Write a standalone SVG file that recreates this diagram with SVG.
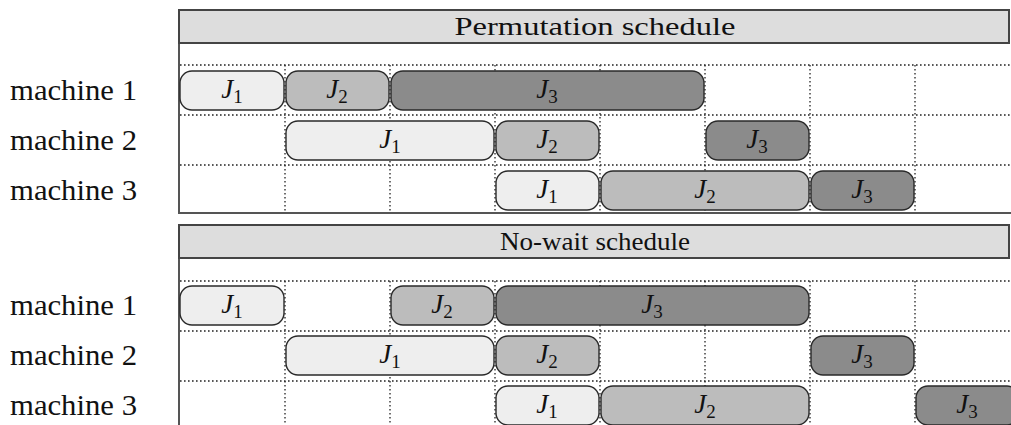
<svg xmlns="http://www.w3.org/2000/svg" width="1011" height="425" viewBox="0 0 1011 425">
  <style>
    .lbl { font-family: "Liberation Serif", "Times New Roman", serif; font-size: 29px; fill: #111; }
    .ttl { font-family: "Liberation Serif", "Times New Roman", serif; font-size: 26px; fill: #111; text-anchor: middle; }
    .job { font-family: "Liberation Serif", "Times New Roman", serif; font-size: 27px; font-style: italic; fill: #111; text-anchor: middle; }
    .sub { font-size: 19px; font-style: normal; }
    .bar { fill: #dddddd; stroke: #444; stroke-width: 2; }
    .frame { fill: none; stroke: #555; stroke-width: 2; }
    .grid { stroke: #222; stroke-width: 1.3; stroke-dasharray: 1.6 2.4; fill: none; }
    .box { stroke: #2a2a2a; stroke-width: 1.4; }
    .j1 { fill: #eeeeee; }
    .j2 { fill: #bcbcbc; }
    .j3 { fill: #8b8b8b; }
  </style>

  <!-- row labels -->
  <g id="labels">
    <text class="lbl" x="10" y="100" textLength="127" lengthAdjust="spacingAndGlyphs">machine 1</text>
    <text class="lbl" x="10" y="150" textLength="127" lengthAdjust="spacingAndGlyphs">machine 2</text>
    <text class="lbl" x="10" y="200" textLength="127" lengthAdjust="spacingAndGlyphs">machine 3</text>
    <text class="lbl" x="10" y="315" textLength="127" lengthAdjust="spacingAndGlyphs">machine 1</text>
    <text class="lbl" x="10" y="365" textLength="127" lengthAdjust="spacingAndGlyphs">machine 2</text>
    <text class="lbl" x="10" y="415" textLength="127" lengthAdjust="spacingAndGlyphs">machine 3</text>
  </g>

  <!-- permutation panel: grid and frame -->
  <g id="grid-top" class="grid">
    <path d="M180 65H1011M180 115H1011M180 165H1011"/>
    <path d="M285 65V213M390 65V213M495 65V213M600 65V213M705 65V213M810 65V213M915 65V213"/>
  </g>
  <g id="panel-top">
    <path class="frame" d="M179 10V213H1011"/>
    <rect class="bar" x="179" y="10" width="830" height="33"/>
    <text class="ttl" x="595" y="35" textLength="281" lengthAdjust="spacingAndGlyphs">Permutation schedule</text>
  </g>

  <!-- no-wait panel: grid and frame -->
  <g id="grid-bottom" class="grid">
    <path d="M180 281H1011M180 331H1011M180 381H1011"/>
    <path d="M285 281V425M390 281V425M495 281V425M600 281V425M705 281V425M810 281V425M915 281V425"/>
  </g>
  <g id="panel-bottom">
    <path class="frame" d="M179 225V425"/>
    <rect class="bar" x="179" y="225" width="830" height="33"/>
    <text class="ttl" x="595" y="250" textLength="190" lengthAdjust="spacingAndGlyphs">No-wait schedule</text>
  </g>

  <!-- permutation schedule jobs -->
  <g id="p-m1-j1"><rect class="box j1" x="180" y="71" width="104" height="39" rx="12"/><text class="job" x="232" y="98">J<tspan class="sub" dy="5">1</tspan></text></g>
  <g id="p-m1-j2"><rect class="box j2" x="286" y="71" width="103" height="39" rx="12"/><text class="job" x="337" y="98">J<tspan class="sub" dy="5">2</tspan></text></g>
  <g id="p-m1-j3"><rect class="box j3" x="391" y="71" width="313" height="39" rx="12"/><text class="job" x="547" y="98">J<tspan class="sub" dy="5">3</tspan></text></g>

  <g id="p-m2-j1"><rect class="box j1" x="286" y="121" width="208" height="39" rx="12"/><text class="job" x="390" y="148">J<tspan class="sub" dy="5">1</tspan></text></g>
  <g id="p-m2-j2"><rect class="box j2" x="496" y="121" width="103" height="39" rx="12"/><text class="job" x="547" y="148">J<tspan class="sub" dy="5">2</tspan></text></g>
  <g id="p-m2-j3"><rect class="box j3" x="706" y="121" width="103" height="39" rx="12"/><text class="job" x="757" y="148">J<tspan class="sub" dy="5">3</tspan></text></g>

  <g id="p-m3-j1"><rect class="box j1" x="496" y="171" width="103" height="39" rx="12"/><text class="job" x="547" y="198">J<tspan class="sub" dy="5">1</tspan></text></g>
  <g id="p-m3-j2"><rect class="box j2" x="601" y="171" width="208" height="39" rx="12"/><text class="job" x="705" y="198">J<tspan class="sub" dy="5">2</tspan></text></g>
  <g id="p-m3-j3"><rect class="box j3" x="811" y="171" width="103" height="39" rx="12"/><text class="job" x="862" y="198">J<tspan class="sub" dy="5">3</tspan></text></g>

  <!-- no-wait schedule jobs -->
  <g id="n-m1-j1"><rect class="box j1" x="180" y="286" width="104" height="39" rx="12"/><text class="job" x="232" y="313">J<tspan class="sub" dy="5">1</tspan></text></g>
  <g id="n-m1-j2"><rect class="box j2" x="391" y="286" width="103" height="39" rx="12"/><text class="job" x="442" y="313">J<tspan class="sub" dy="5">2</tspan></text></g>
  <g id="n-m1-j3"><rect class="box j3" x="496" y="286" width="313" height="39" rx="12"/><text class="job" x="652" y="313">J<tspan class="sub" dy="5">3</tspan></text></g>

  <g id="n-m2-j1"><rect class="box j1" x="286" y="336" width="208" height="39" rx="12"/><text class="job" x="390" y="363">J<tspan class="sub" dy="5">1</tspan></text></g>
  <g id="n-m2-j2"><rect class="box j2" x="496" y="336" width="103" height="39" rx="12"/><text class="job" x="547" y="363">J<tspan class="sub" dy="5">2</tspan></text></g>
  <g id="n-m2-j3"><rect class="box j3" x="811" y="336" width="103" height="39" rx="12"/><text class="job" x="862" y="363">J<tspan class="sub" dy="5">3</tspan></text></g>

  <g id="n-m3-j1"><rect class="box j1" x="496" y="386" width="103" height="39" rx="12"/><text class="job" x="547" y="413">J<tspan class="sub" dy="5">1</tspan></text></g>
  <g id="n-m3-j2"><rect class="box j2" x="601" y="386" width="208" height="39" rx="12"/><text class="job" x="705" y="413">J<tspan class="sub" dy="5">2</tspan></text></g>
  <g id="n-m3-j3"><rect class="box j3" x="916" y="386" width="103" height="39" rx="12"/><text class="job" x="967" y="413">J<tspan class="sub" dy="5">3</tspan></text></g>

  <!-- no connectors in this chart -->
  <g id="connectors"/>
</svg>
